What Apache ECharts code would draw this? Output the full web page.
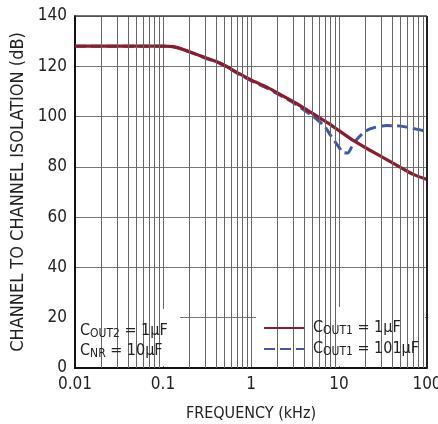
<!DOCTYPE html>
<html><head><meta charset="utf-8">
<script src="https://cdn.jsdelivr.net/npm/echarts@6/dist/echarts.min.js"></script>
<style>html,body{margin:0;padding:0;background:#fff}#c{width:438px;height:424px}</style>
</head><body><div id="c"></div>
<script>
var FONT = '"Liberation Sans Narrow","DejaVu Sans Condensed","Liberation Sans",Arial,sans-serif';
var xTicks = [0.01, 0.1, 1, 10, 100];
var yTicks = [0, 20, 40, 60, 80, 100, 120, 140];
var minorFreqs = [0.02,0.03,0.04,0.05,0.06,0.07,0.08,0.09,0.2,0.3,0.4,0.5,0.6,0.7,0.8,0.9,2,3,4,5,6,7,8,9,20,30,40,50,60,70,80,90];
var freqRed = [0.01,0.03,0.1,0.13,0.2,0.3,0.45,0.7,1,1.5,2,3,4,6,8,10,15,20,30,50,70,100];
var valRed  = [128,128,128,127.8,125.8,123.5,121.2,117.5,114.6,111.8,109.4,106,103.4,99.5,96.8,94.4,90.2,87.6,84.2,79.8,77,75];
var freqBlue = [0.01,0.03,0.1,0.13,0.2,0.3,0.45,0.7,1,1.5,2,3,4,5,6,7,8,9,10,11,12.5,14,16,20,25,35,50,70,100];
var valBlue  = [128,128,128,127.8,125.7,123.3,121,117.2,114.3,111.4,109,105.6,102.6,100.3,98,95.7,92.6,90,87.8,85.8,85.5,88,91,94.2,95.6,96.4,96.2,95.3,94];
var nameRed = 'red', nameBlue = 'blue';

function pairs(xs, ys){ return xs.map(function(x,i){ return [x, ys[i]]; }); }

var chart = echarts.init(document.getElementById('c'), null, {renderer:'canvas'});
chart.setOption({
  animation:false,
  backgroundColor:'#fff',
  grid:{left:75, right:11, top:16, bottom:56, containLabel:false, outerBoundsMode:'none'},
  xAxis:{type:'log', logBase:10, min:0.01, max:100,
    name:'FREQUENCY (kHz)', nameLocation:'middle', nameGap:38,
    nameTextStyle:{fontFamily:FONT, fontSize:16, color:'#222'},
    axisLine:{show:true, lineStyle:{color:'#111', width:2}},
    axisTick:{show:false},
    axisLabel:{fontFamily:FONT, fontSize:17, color:'#222', margin:8,
      formatter:function(v){ return String(+(+v).toPrecision(3)); }},
    splitLine:{show:true, lineStyle:{color:'#666', width:1}}
  },
  yAxis:{type:'value', min:0, max:140, interval:20,
    name:'CHANNEL TO CHANNEL ISOLATION (dB)', nameLocation:'middle', nameGap:47,
    nameTextStyle:{fontFamily:FONT, fontSize:18, color:'#222'},
    axisLine:{show:true, lineStyle:{color:'#111', width:2}},
    axisTick:{show:false},
    axisLabel:{fontFamily:FONT, fontSize:17, color:'#222', margin:8},
    splitLine:{show:true, lineStyle:{color:'#777', width:1}}
  },
  legend:{show:true, orient:'vertical', left:258, top:315, itemWidth:40, itemHeight:12, itemGap:4, z:20,
    data:[nameRed, nameBlue],
    itemStyle:{opacity:0},
    formatter:function(n){ return n===nameRed ? '{c|C}{s|OUT1}{c| = 1μF}' : '{c|C}{s|OUT1}{c| = 101μF}'; },
    textStyle:{fontFamily:FONT, color:'#222', padding:[0,0,0,4], rich:{
      c:{fontFamily:FONT, fontSize:16, color:'#222'},
      s:{fontFamily:FONT, fontSize:12, color:'#222', verticalAlign:'bottom', padding:[6,0,0,0]}
    }}
  },
  graphic:[
    {type:'rect', z:5, shape:{x:76, y:309, width:104, height:57}, style:{fill:'#fff'}},
    {type:'rect', z:5, shape:{x:256, y:307, width:169, height:59}, style:{fill:'#fff'}},
    {type:'text', z:6, left:80, top:322, style:{text:'{c|C}{s|OUT2}{c| = 1μF}\n{c|C}{s|NR}{c| = 10μF}', fill:'#222',
      rich:{c:{fontFamily:FONT, fontSize:16, fill:'#222', lineHeight:20}, s:{fontFamily:FONT, fontSize:12, fill:'#222', padding:[6,0,0,0], lineHeight:20}}}}
  ],
  series:[
    {type:'line', name:'minor', data:[], silent:true, z:1,
      markLine:{silent:true, symbol:['none','none'], label:{show:false}, animation:false,
        lineStyle:{color:'#666', width:1, type:'solid'},
        data: minorFreqs.map(function(f){ return {xAxis:f}; })}},
    {type:'line', name:'frame', data:[], silent:true, z:8,
      markLine:{silent:true, symbol:['none','none'], label:{show:false}, animation:false,
        data:[{xAxis:100, lineStyle:{color:'#222', width:2, type:'solid'}},
              {yAxis:140, lineStyle:{color:'#444', width:1.5, type:'solid'}}]}},
    {type:'line', name:nameBlue, data:pairs(freqBlue, valBlue), showSymbol:false, symbol:'none', smooth:0.3, z:3,
      color:'#3b5aa8', lineStyle:{color:'#3b5aa8', width:3, type:[11,5]}},
    {type:'line', name:nameRed, data:pairs(freqRed, valRed), showSymbol:false, symbol:'none', smooth:0.3, z:4,
      color:'#8e1b2c', lineStyle:{color:'#8e1b2c', width:3.2}}
  ]
});
</script></body></html>
